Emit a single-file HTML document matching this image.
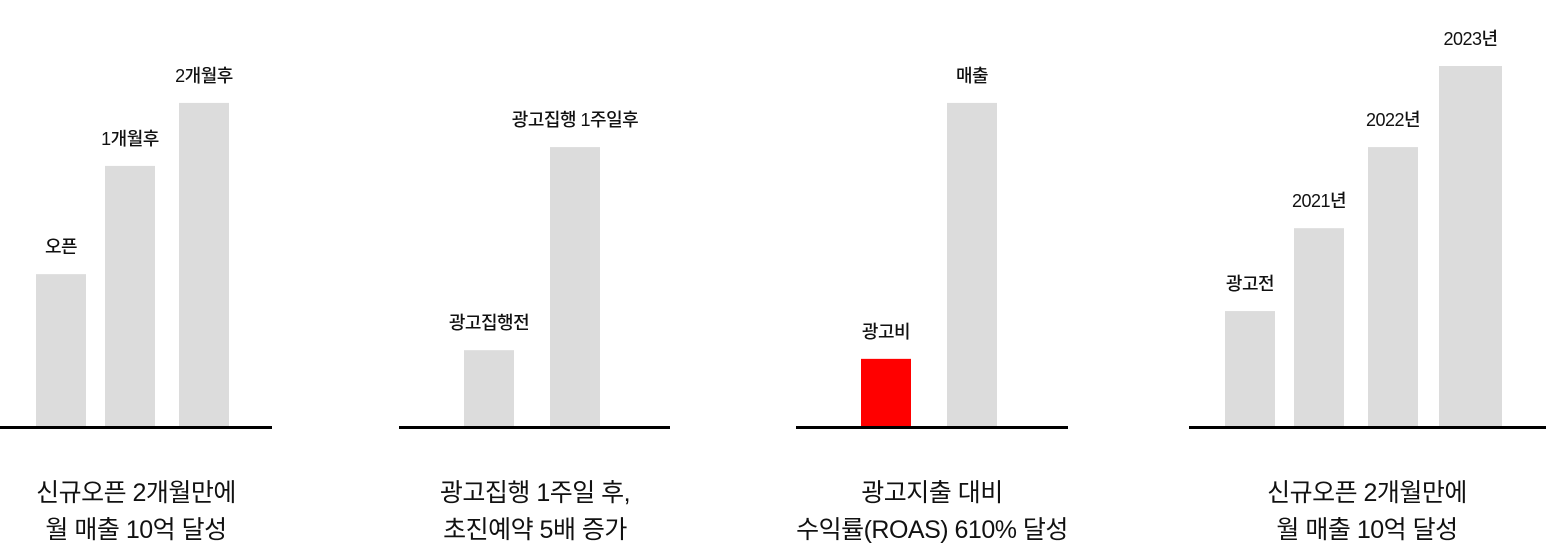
<!DOCTYPE html>
<html><head><meta charset="utf-8"><style>
body{margin:0;width:1546px;height:560px;background:#fff;overflow:hidden;font-family:"Liberation Sans","Noto Sans CJK KR",sans-serif}
svg{display:block}
</style></head><body>
<svg id="chart" width="1546" height="560"></svg>
<script>
const p1Labels=["오픈","1개월후","2개월후"];
const p1Values=[42.5,72.4,89.8];
const p2Labels=["광고집행전","광고집행 1주일후"];
const p2Values=[21.5,77.6];
const p3Labels=["광고비","매출"];
const p3Values=[19.1,89.8];
const p4Labels=["광고전","2021년","2022년","2023년"];
const p4Values=[32.3,55.2,77.6,100];
const captions=[["신규오픈 2개월만에","월 매출 10억 달성"],["광고집행 1주일 후,","초진예약 5배 증가"],["광고지출 대비","수익률(ROAS) 610% 달성"],["신규오픈 2개월만에","월 매출 10억 달성"]];
const NS="http://www.w3.org/2000/svg";
const svg=document.getElementById('chart');
const base=428, maxH=362;
function y(v){return base-v/100*maxH;}
const panels=[
 {labels:p1Labels,values:p1Values,xs:[36,105,179],ws:[50,50,50],axis:[0,272],cx:136,colors:null},
 {labels:p2Labels,values:p2Values,xs:[464,550],ws:[50,50],axis:[399,670],cx:535,colors:null},
 {labels:p3Labels,values:p3Values,xs:[861,947],ws:[50,50],axis:[796,1068],cx:932,colors:["#ff0000","#dcdcdc"]},
 {labels:p4Labels,values:p4Values,xs:[1225,1294,1368,1439],ws:[50,50,50,63],axis:[1189,1546],cx:1367,colors:null}
];
function mk(t,a){const e=document.createElementNS(NS,t);for(const k in a)e.setAttribute(k,a[k]);svg.appendChild(e);return e;}
panels.forEach((p,pi)=>{
 p.values.forEach((v,i)=>{
  const r=mk('rect',{x:p.xs[i],y:y(v),width:p.ws[i],height:base-y(v),fill:p.colors?p.colors[i]:'#dcdcdc'});
  
  
  const t=mk('text',{x:p.xs[i]+p.ws[i]/2,y:y(v)-21,'text-anchor':'middle','font-size':18,'font-weight':500,'letter-spacing':-0.5,fill:'#111'});
  t.textContent=p.labels[i];
  
  
 });
 const l=mk('rect',{x:p.axis[0],y:426,width:p.axis[1]-p.axis[0],height:3,fill:'#000'});
 
 
 captions[pi].forEach((c,ci)=>{
  const t=mk('text',{x:p.cx,y:501+ci*37,'text-anchor':'middle','font-size':25,'letter-spacing':-0.5,fill:'#111'});
  t.textContent=c;
  
  
 });
});
</script>
</body></html>
